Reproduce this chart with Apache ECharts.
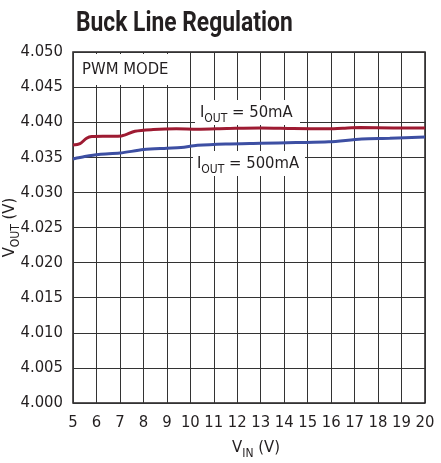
<!DOCTYPE html>
<html><head><meta charset="utf-8">
<script src="https://cdn.jsdelivr.net/npm/echarts@6/dist/echarts.min.js"></script>
<style>html,body{margin:0;padding:0;background:#fff}#c{width:441px;height:463px}</style>
</head><body><div id="c"></div>
<script>
const FONT = "'Liberation Sans Narrow','DejaVu Sans Condensed','Roboto',sans-serif";
const yTicks = ['4.000','4.005','4.010','4.015','4.020','4.025','4.030','4.035','4.040','4.045','4.050'];
const xTicks = [5,6,7,8,9,10,11,12,13,14,15,16,17,18,19,20];
const vinRed = [5.0, 5.3, 5.58, 5.8, 6.5, 7.07, 7.64, 8.42, 9.4, 10.3, 11.55, 12.97, 14.39, 15.81, 16.5, 17.23, 18.65, 20.0];
const vout50mA = [4.03676, 4.03695, 4.03771, 4.03795, 4.03800, 4.03805, 4.03871, 4.03895, 4.03905, 4.03900, 4.03910, 4.03919, 4.03910, 4.03905, 4.03915, 4.03924, 4.03919, 4.03919];
const vinBlue = [5.0, 5.5, 6.1, 7.0, 8.0, 9.0, 9.6, 10.3, 11.5, 13.0, 14.5, 15.9, 17.3, 18.5, 20.0];
const vout500mA = [4.03476, 4.03510, 4.03540, 4.03560, 4.03610, 4.03630, 4.03640, 4.03670, 4.03690, 4.03700, 4.03710, 4.03720, 4.03760, 4.03770, 4.03790];

const sub = {
  a:{fontFamily:FONT,fontSize:16.5,color:'#231f20',verticalAlign:'bottom',lineHeight:18},
  b:{fontFamily:FONT,fontSize:12,color:'#231f20',verticalAlign:'bottom',lineHeight:12,padding:[0,0,-4,0]}
};
const subG = {
  a:{fontFamily:FONT,fontSize:16.5,fill:'#231f20',verticalAlign:'bottom',lineHeight:18},
  b:{fontFamily:FONT,fontSize:12,fill:'#231f20',verticalAlign:'bottom',lineHeight:12,padding:[0,0,-4,0]}
};

const chart = echarts.init(document.getElementById('c'));
chart.setOption({
  animation:false,
  grid:{left:73, right:16, top:52, bottom:60, outerBoundsMode:'none', containLabel:false,
    show:true, borderColor:'#231f20', borderWidth:1.5, backgroundColor:'#fff'},
  xAxis:{type:'value', min:5, max:20, interval:1,
    axisLine:{show:false},
    axisTick:{show:false},
    splitLine:{show:true, lineStyle:{color:'#333', width:1}},
    axisLabel:{fontFamily:FONT, fontSize:16.5, color:'#231f20', margin:11,
      formatter: v => xTicks.includes(v) ? String(v) : ''},
    name:'{a|V}{b|IN}{a| (V)}', nameLocation:'middle', nameGap:35, nameMoveOverlap:false,
    nameTextStyle:{rich:sub, padding:[0,0,0,14]}
  },
  yAxis:{type:'value', min:4.0, max:4.05, interval:0.005,
    axisLine:{show:false},
    axisTick:{show:false},
    splitLine:{show:true, lineStyle:{color:'#333', width:1}},
    axisLabel:{fontFamily:FONT, fontSize:16.5, color:'#231f20', margin:10,
      formatter: v => yTicks[Math.round((v-4.0)/0.005)] || ''},
    name:'{a|V}{b|OUT}{a| (V)}', nameLocation:'middle', nameGap:55, nameRotate:90, nameMoveOverlap:false,
    nameTextStyle:{rich:sub}
  },
  series:[
    {type:'line', data: vinRed.map((x,i)=>[x, vout50mA[i]]), smooth:0.3, showSymbol:false,
      lineStyle:{color:'#9e1b32', width:3}, z:3},
    {type:'line', data: vinBlue.map((x,i)=>[x, vout500mA[i]]), smooth:0.3, showSymbol:false,
      lineStyle:{color:'#3d4fa3', width:3}, z:3}
  ],
  graphic:[
    {type:'text', x:76, y:11, scaleX:0.845,
      style:{text:'Buck Line Regulation', fontFamily:'Roboto', fontWeight:'bold', fontSize:27, fill:'#231f20'}},
    {type:'rect', shape:{x:75, y:54, width:102, height:31}, style:{fill:'#fff'}, z:10},
    {type:'text', x:82, y:61, style:{text:'PWM MODE', fontFamily:FONT, fontSize:16.5, fill:'#231f20'}, z:11},
    {type:'rect', shape:{x:195, y:100, width:105, height:25}, style:{fill:'#fff'}, z:10},
    {type:'text', x:200, y:103, style:{text:'{a|I}{b|OUT}{a| = 50mA}', rich:subG}, z:11},
    {type:'rect', shape:{x:193, y:151, width:112, height:25}, style:{fill:'#fff'}, z:10},
    {type:'text', x:197, y:154, style:{text:'{a|I}{b|OUT}{a| = 500mA}', rich:subG}, z:11}
  ]
});
</script></body></html>
